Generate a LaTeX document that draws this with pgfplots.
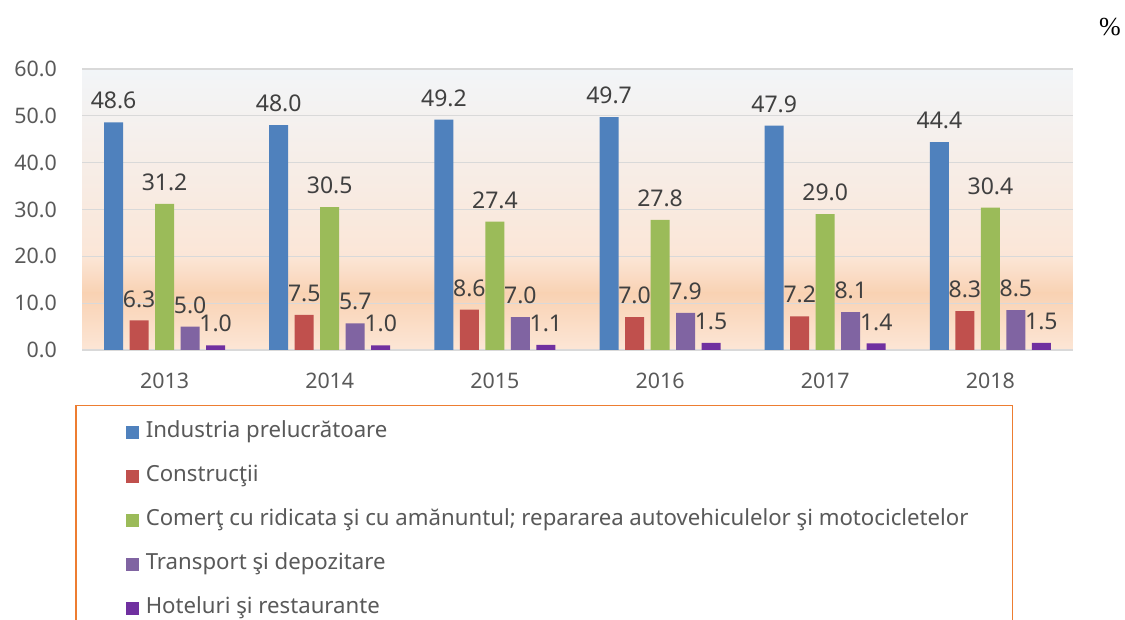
\documentclass[border=0pt]{standalone}
\usepackage{pgfplots}
\pgfplotsset{compat=1.18}
\usepackage{fontspec}
\setmainfont{Noto Sans}
\newfontfamily\seriffont{Liberation Serif}

\definecolor{cInd}{HTML}{4F81BD}
\definecolor{cCon}{HTML}{C0504D}
\definecolor{cCom}{HTML}{9BBB59}
\definecolor{cTra}{HTML}{8064A2}
\definecolor{cHot}{HTML}{7030A0}
\definecolor{tickc}{HTML}{595959}
\definecolor{labc}{HTML}{404040}
\definecolor{gridc}{HTML}{D9D9D9}
\definecolor{legc}{HTML}{ED7D31}
\definecolor{bgTop}{HTML}{F2F5F8}
\definecolor{bgMid}{HTML}{FBE6D7}
\definecolor{bgPeak}{HTML}{F9D2B3}
\definecolor{bgBot}{HTML}{FCE6D6}

\begin{document}
\begin{tikzpicture}
\begin{axis}[
    set layers,
    scale only axis,
    width=495.5pt,
    height=140.5pt,
    ymin=0, ymax=60,
    ytick={0,10,...,60},
    xmin=-0.5, xmax=5.5,
    xtick={0,...,5},
    xticklabels={2013,2014,2015,2016,2017,2018},
    ybar=3.25pt,
    bar width=9.5pt,
    ymajorgrids,
    grid style={draw=gridc, line width=0.6pt},
    axis line style={draw=none},
    major tick length=0pt,
    /pgf/number format/assume math mode=true,
    tick label style={font=\fontsize{10.7}{13}\selectfont, text=tickc},
    yticklabel style={xshift=-9pt, /pgf/number format/.cd, fixed, fixed zerofill, precision=1},
    xticklabel style={yshift=-8pt},
    nodes near coords,
    every node near coord/.append style={font=\fontsize{11.5}{14}\selectfont, text=labc, yshift=3pt,
        /pgf/number format/fixed, /pgf/number format/fixed zerofill, /pgf/number format/precision=1},
    legend cell align=left,
    legend image code/.code={\path[draw=none,fill=none] (0pt,0pt) (13pt,0pt);
        \fill[#1,/tikz/.cd,draw=none] (5pt,-3pt) rectangle (11.5pt,3.5pt);},
    legend style={at={(0,0)}, anchor=north west, xshift=-3.5pt, yshift=-27.5pt,
        draw=legc, line width=0.75pt, inner xsep=20pt, inner ysep=9pt,
        font=\fontsize{11.1}{13}\selectfont, text=tickc, row sep=13pt,
        nodes={text height=7pt, text depth=2pt, inner ysep=0pt}},
]
\begin{pgfonlayer}{axis background}
\shade[top color=bgTop, bottom color=bgMid, draw=none] (axis cs:-0.5,20) rectangle (axis cs:5.5,60);
\shade[top color=bgMid, bottom color=bgPeak, draw=none] (axis cs:-0.5,12.2) rectangle (axis cs:5.5,20);
\shade[top color=bgPeak, bottom color=bgBot, draw=none] (axis cs:-0.5,0) rectangle (axis cs:5.5,12.2);
\end{pgfonlayer}
\coordinate (o) at (rel axis cs:0,0);

\addplot[fill=cInd, draw=none] coordinates {(0,48.6) (1,48.0) (2,49.2) (3,49.7) (4,47.9) (5,44.4)};
\addplot[fill=cCon, draw=none] coordinates {(0,6.3) (1,7.5) (2,8.6) (3,7.0) (4,7.2) (5,8.3)};
\addplot[fill=cCom, draw=none] coordinates {(0,31.2) (1,30.5) (2,27.4) (3,27.8) (4,29.0) (5,30.4)};
\addplot[fill=cTra, draw=none] coordinates {(0,5.0) (1,5.7) (2,7.0) (3,7.9) (4,8.1) (5,8.5)};
\addplot[fill=cHot, draw=none] coordinates {(0,1.0) (1,1.0) (2,1.1) (3,1.5) (4,1.4) (5,1.5)};

\legend{Industria prelucrătoare, Construcţii,
  Comerţ cu ridicata şi cu amănuntul; repararea autovehiculelor şi motocicletelor,
  Transport şi depozitare, Hoteluri şi restaurante}
\end{axis}
\node[font=\seriffont\fontsize{13}{15}\selectfont, text=black] at ([xshift=514pt,yshift=161.5pt]o) {\%};
\pgfresetboundingbox
\path[use as bounding box] ([xshift=-41pt,yshift=-135pt]o) rectangle ([xshift=521.5pt,yshift=175pt]o);
\end{tikzpicture}
\end{document}
